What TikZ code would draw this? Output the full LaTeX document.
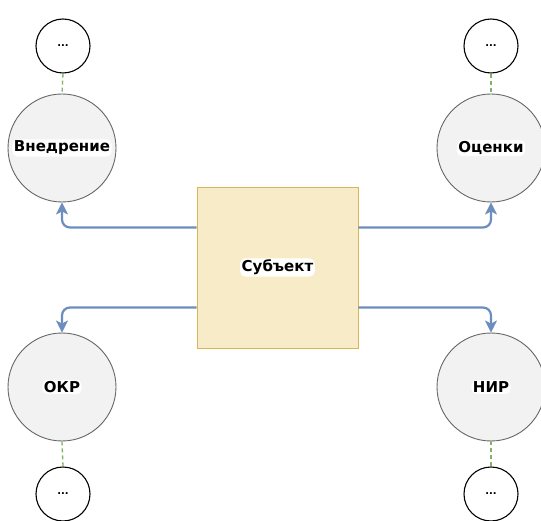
\documentclass[tikz,border=0pt]{standalone}
\usepackage{fontspec}
\setmainfont{DejaVu Sans}
\usetikzlibrary{arrows.meta}
\definecolor{boxfill}{HTML}{F7EBC8}
\definecolor{boxdraw}{HTML}{D6B656}
\definecolor{circfill}{HTML}{F2F2F2}
\definecolor{circdraw}{HTML}{666666}
\definecolor{arrcol}{HTML}{6C8EBF}
\definecolor{dashcol}{HTML}{82B366}
\tikzset{
  bigc/.style={circle, draw=circdraw, fill=circfill, line width=0.9pt, minimum size=108pt, inner sep=0pt},
  smallc/.style={circle, draw=black, fill=white, line width=1.1pt, minimum size=54pt, inner sep=0pt, font=\bfseries\fontsize{10}{12}\selectfont},
  lbl/.style={fill=white, rounded corners=5pt, inner sep=1.5pt, font=\bfseries\fontsize{15}{17}\selectfont},
  subj/.style={rectangle, draw=boxdraw, fill=boxfill, line width=0.9pt, minimum size=161pt, inner sep=0pt},
  arr/.style={draw=arrcol, line width=2.2pt, rounded corners=8pt, -{Stealth[length=12pt,width=12pt,inset=3pt]}},
  dsh/.style={draw=dashcol, line width=1.3pt, dash pattern=on 4pt off 3pt},
}
\begin{document}
\begin{tikzpicture}[x=1pt,y=-1pt]
\useasboundingbox (0,0) rectangle (541,521);
\fill[white] (0,0) rectangle (541,521);

\node[subj] (s) at (277.5,267.5) {};
\node[lbl] (st) at (s.center) {Субъект};

\node[bigc] (v) at (62,148) {};
\node[lbl] at (v.center) {Внедрение};
\node[bigc] (o) at (491,148) {};
\node[lbl] at (o.center) {Оценки};
\node[bigc] (k) at (62,387) {};
\node[lbl] at (k.center) {ОКР};
\node[bigc] (n) at (491,387) {};
\node[lbl] at (n.center) {НИР};

\node[smallc] (v1) at (63,46) {...};
\node[smallc] (o1) at (491,46) {...};
\node[smallc] (k1) at (63,494) {...};
\node[smallc] (n1) at (491,494) {...};

\draw[dsh] (v1.south) -- (v.north);
\draw[dsh] (o1.south) -- (o.north);
\draw[dsh] (k.south) -- (k1.north);
\draw[dsh] (n.south) -- (n1.north);

\draw[arr] ([yshift=40pt]s.west) -| (v.south);
\draw[arr] ([yshift=40pt]s.east) -| (o.south);
\draw[arr] ([yshift=-40pt]s.west) -| (k.north);
\draw[arr] ([yshift=-40pt]s.east) -| (n.north);
\end{tikzpicture}
\end{document}
